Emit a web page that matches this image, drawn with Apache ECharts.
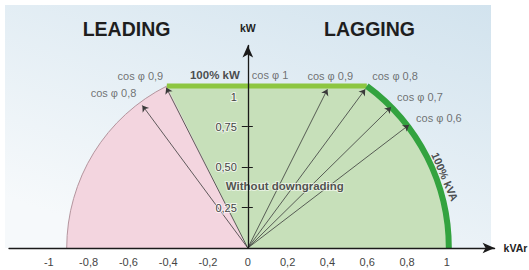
<!DOCTYPE html>
<html>
<head>
<meta charset="utf-8">
<script src="https://cdn.jsdelivr.net/npm/echarts@6/dist/echarts.min.js"></script>
<style>
html, body { margin: 0; padding: 0; background: #fff; }
#chart { width: 529px; height: 270px; }
</style>
</head>
<body>
<div id="chart"></div>
<script>
// tick labels
const xTicks = [-1, -0.8, -0.6, -0.4, -0.2, 0, 0.2, 0.4, 0.6, 0.8, 1];
const yTicks = [0.25, 0.5, 0.75, 1];
// limits
const kvaLagging = 1.01;  // 100% kVA arc, lagging side
const kvaLeading = 0.91;  // arc on the leading side
const kwLimit = 1;        // 100% kW
// cos φ arrows (tips)
const lagNames = ['cos φ 1', 'cos φ 0,9', 'cos φ 0,8', 'cos φ 0,7', 'cos φ 0,6'];
const lagTips = [[0, 1], [0.40, 0.98], [0.59, 0.98], [0.72, 0.87], [0.81, 0.76]];
const leadNames = ['cos φ 0,9', 'cos φ 0,8'];
const leadTips = [[-0.41, 0.99], [-0.53, 0.88]];

const green = '#c7e0ba';
const pink = '#f3d5df';
const lime = '#8dc641';
const darkGreen = '#33a33f';

// axis range and grid
const xMin = -1.2, xMax = 1.24;
const gridLeft = 9, gridRight = 34.4;
const gridW = 529 - gridLeft - gridRight;
const yAxisShift = -(0 - xMin) / (xMax - xMin) * gridW; // put the kW axis at kVAr = 0

// label offsets (px) next to the arrow tips
const lagOffsets = [[4, -11], [-20, -13], [7, -13], [6, -10], [7, -7]];
const leadOffsets = [[-3, -12], [-6, -12]];

function renderZones(params, api) {
  const o = api.coord([0, 0]);
  const rLag = api.coord([kvaLagging, 0])[0] - o[0];
  const rLead = o[0] - api.coord([-kvaLeading, 0])[0];
  const dy = o[1] - api.coord([0, kwLimit])[1];
  const aLag = Math.asin(dy / rLag);
  const aLead = Math.asin(dy / rLead);
  const cL = [o[0] - rLead * Math.cos(aLead), o[1] - dy];
  const cR = [o[0] + rLag * Math.cos(aLag), o[1] - dy];
  return {
    type: 'group',
    children: [
      { type: 'sector', shape: { cx: o[0], cy: o[1], r: rLead, startAngle: Math.PI, endAngle: Math.PI + aLead },
        style: { fill: pink } },
      { type: 'sector', shape: { cx: o[0], cy: o[1], r: rLag, startAngle: -aLag, endAngle: 0 },
        style: { fill: green, stroke: green, lineWidth: 0.5 } },
      { type: 'polygon', shape: { points: [o, cL, cR] }, style: { fill: green, stroke: green, lineWidth: 0.5 } },
      { type: 'arc', shape: { cx: o[0], cy: o[1], r: rLead, startAngle: Math.PI, endAngle: Math.PI + aLead },
        style: { stroke: '#b4959e', lineWidth: 1, fill: null } },
      { type: 'line', shape: { x1: cL[0], y1: cL[1], x2: cR[0], y2: cR[1] }, style: { stroke: lime, lineWidth: 5 } },
      { type: 'arc', shape: { cx: o[0], cy: o[1], r: rLag, startAngle: -aLag, endAngle: 0 },
        style: { stroke: darkGreen, lineWidth: 6, fill: null } }
    ]
  };
}

const labelData = [];
lagNames.forEach((n, i) => {
  labelData.push({ name: n, value: lagTips[i], label: { offset: lagOffsets[i], align: 'left' } });
});
leadNames.forEach((n, i) => {
  labelData.push({ name: n, value: leadTips[i], label: { offset: leadOffsets[i], align: 'right' } });
});
labelData.push({ name: '100% kW', value: [0, kwLimit],
  label: { offset: [-8, -11], align: 'right', fontWeight: 'bold', fontSize: 11.5, color: '#222' } });
labelData.push({ name: 'Without downgrading', value: [0.186, 0.383],
  label: { align: 'center', fontWeight: 'bold', fontSize: 11.5, color: '#2a2a2a',
    textBorderColor: 'rgba(255,255,255,0.7)', textBorderWidth: 2 } });
labelData.push({ name: '100% kVA', value: [0.99, 0.44],
  label: { align: 'center', rotate: -67, fontWeight: 'bold', fontSize: 11, color: '#222' } });

const chart = echarts.init(document.getElementById('chart'), null, { renderer: 'svg' });
const option = {
  animation: false,
  textStyle: { fontFamily: '"Liberation Sans", Arial, sans-serif' },
  grid: { left: gridLeft, right: gridRight, top: 45.5, bottom: 22, outerBoundsMode: 'none' },
  graphic: [
    { type: 'rect', z: -100, shape: { x: 5, y: 5, width: 486, height: 243 },
      style: { fill: new echarts.graphic.LinearGradient(1, 0, 0.3, 1, [
        { offset: 0, color: '#d2e3ee' }, { offset: 1, color: '#f6f9fb' }]) } },
    { type: 'text', x: 126.5, y: 29, z: 5,
      style: { text: 'LEADING', font: 'bold 19.5px "Liberation Sans", Arial, sans-serif', fill: '#1e1e1e',
        align: 'center', verticalAlign: 'middle', textAlign: 'center', textVerticalAlign: 'middle' } },
    { type: 'text', x: 369.5, y: 29, z: 5,
      style: { text: 'LAGGING', font: 'bold 19.5px "Liberation Sans", Arial, sans-serif', fill: '#1e1e1e',
        align: 'center', verticalAlign: 'middle', textAlign: 'center', textVerticalAlign: 'middle' } }
  ],
  xAxis: {
    type: 'value', min: xMin, max: xMax, z: 10,
    axisLine: { onZero: true, lineStyle: { color: '#1a1a1a', width: 1.3 }, symbol: ['none', 'arrow'], symbolSize: [8, 12] },
    axisTick: { show: false },
    splitLine: { show: false },
    axisLabel: { customValues: xTicks, margin: 8, fontSize: 11, color: '#444',
      formatter: v => String(v).replace('.', ',') },
    name: 'kVAr', nameLocation: 'end', nameGap: 9, nameMoveOverlap: false,
    nameTextStyle: { fontWeight: 'bold', fontSize: 10.5, color: '#222', verticalAlign: 'middle' }
  },
  yAxis: [{
    type: 'value', min: 0, max: 1.25, z: 10, position: 'left', offset: yAxisShift,
    axisLine: { onZero: false, lineStyle: { color: '#1a1a1a', width: 1.3 }, symbol: ['none', 'arrow'], symbolSize: [8, 12] },
    axisTick: { show: true, length: 6, customValues: [0.25, 0.5, 0.75], lineStyle: { color: '#1a1a1a' } },
    splitLine: { show: false },
    axisLabel: { customValues: yTicks, margin: 11, fontSize: 11, color: '#444',
      textBorderColor: 'rgba(255,255,255,0.7)', textBorderWidth: 2,
      formatter: v => v === 1 ? '{one|1}' : v.toFixed(2).replace('.', ','),
      rich: { one: { padding: [22, 0, 0, 0], fontSize: 11, color: '#444' } } },
    name: 'kW', nameLocation: 'end', nameGap: 12, nameMoveOverlap: false,
    nameTextStyle: { fontWeight: 'bold', fontSize: 10.5, color: '#222' }
  }, {
    type: 'value', min: 0, max: 1.25, position: 'left', offset: yAxisShift, z: 10,
    axisLine: { show: false, onZero: false },
    axisTick: { show: true, inside: true, length: 5, customValues: [0.25, 0.5, 0.75], lineStyle: { color: '#1a1a1a' } },
    axisLabel: { show: false },
    splitLine: { show: false }
  }],
  series: [
    {
      type: 'custom', renderItem: renderZones, data: [[0, 0]], silent: true, z: 1
    },
    {
      type: 'lines', coordinateSystem: 'cartesian2d', silent: true, z: 3,
      symbol: ['none', 'arrow'], symbolSize: 6,
      lineStyle: { color: '#3a3a3a', width: 0.8, opacity: 1, curveness: 0 },
      data: lagTips.slice(1).concat(leadTips).map(t => ({ coords: [[0, 0], t] }))
    },
    {
      type: 'scatter', silent: true, z: 6, symbolSize: 1,
      itemStyle: { color: 'rgba(0,0,0,0)' },
      label: { show: true, position: 'inside', verticalAlign: 'middle', fontSize: 11, color: '#505050',
        formatter: p => p.name },
      data: labelData
    }
  ]
};
chart.setOption(option);
</script>
</body>
</html>
